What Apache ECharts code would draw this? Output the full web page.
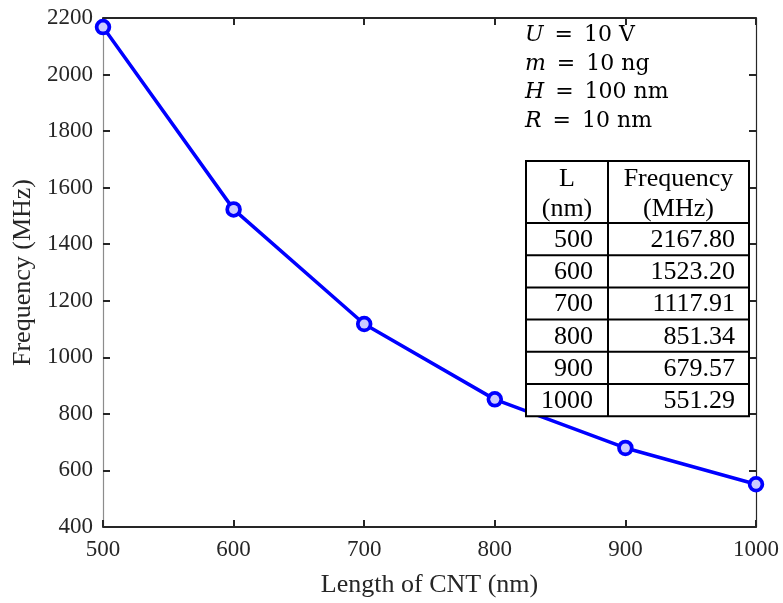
<!DOCTYPE html>
<html>
<head>
<meta charset="utf-8">
<script src="https://cdn.jsdelivr.net/npm/echarts@6/dist/echarts.min.js"></script>
<style>html,body{margin:0;padding:0;background:#fff;}#c{width:783px;height:603px;}</style>
</head>
<body>
<div id="c"></div>
<script>
// Data
var lengths = [500, 600, 700, 800, 900, 1000];           // nm
var frequencies = [2167.80, 1523.20, 1117.91, 851.34, 679.57, 551.29]; // MHz
var xTicks = [500, 600, 700, 800, 900, 1000];
var yTicks = [400, 600, 800, 1000, 1200, 1400, 1600, 1800, 2000, 2200];
var paramVars = ['U', 'm', 'H', 'R'];
var paramVals = ['10 V', '10 ng', '100 nm', '10 nm'];
var tableHeader = [['L', '(nm)'], ['Frequency', '(MHz)']];

var chart = echarts.init(document.getElementById('c'), null, {renderer: 'canvas'});
var axisColor = '#262626';
var serif = '"Liberation Serif", "Times New Roman", serif';

function axisBase(extra, lineColor, lineWidth) {
  return Object.assign({
    type: 'value',
    axisLine: {show: true, onZero: false, lineStyle: {color: lineColor || axisColor, width: lineWidth || 2}},
    axisTick: {show: true, inside: true, length: 7, lineStyle: {color: axisColor, width: 2}},
    splitLine: {show: false}
  }, extra);
}

// Annotation + table graphics
var graphics = [];
var annoY = [37, 66, 94.5, 123];
for (var i = 0; i < paramVars.length; i++) {
  graphics.push({
    type: 'text', left: 525, top: annoY[i] - 13, z: 100,
    style: {
      text: '{i|' + paramVars[i] + '}\u2002=\u2002' + paramVals[i],
      font: '22px "DejaVu Serif"', fill: '#000',
      rich: {i: {fontStyle: 'italic', fontSize: 22, fontFamily: 'DejaVu Serif'}}
    }
  });
}
var tx0 = 526, tx1 = 608, tx2 = 749, ty0 = 161, th = 62, rh = 32.2;
var nRows = lengths.length;
var tBottom = ty0 + th + rh * nRows;
graphics.push({type: 'rect', z: 100, shape: {x: tx0, y: ty0, width: tx2 - tx0, height: tBottom - ty0},
  style: {fill: '#fff', stroke: '#000', lineWidth: 2}});
graphics.push({type: 'line', z: 101, shape: {x1: tx1, y1: ty0, x2: tx1, y2: tBottom}, style: {stroke: '#000', lineWidth: 2}});
for (var r = 0; r < nRows; r++) {
  var yl = ty0 + th + rh * r;
  graphics.push({type: 'line', z: 101, shape: {x1: tx0, y1: yl, x2: tx2, y2: yl}, style: {stroke: '#000', lineWidth: 2}});
  graphics.push({type: 'text', z: 102, x: tx1 - 15, y: yl + rh / 2 + 1,
    style: {text: String(lengths[r]), font: '26px ' + serif, fill: '#000', textAlign: 'right', textVerticalAlign: 'middle'}});
  graphics.push({type: 'text', z: 102, x: tx2 - 14, y: yl + rh / 2 + 1,
    style: {text: frequencies[r].toFixed(2), font: '26px ' + serif, fill: '#000', textAlign: 'right', textVerticalAlign: 'middle'}});
}
var colCenters = [(tx0 + tx1) / 2, (tx1 + tx2) / 2];
for (var c = 0; c < 2; c++) {
  for (var k = 0; k < 2; k++) {
    graphics.push({type: 'text', z: 102, x: colCenters[c], y: ty0 + 18 + k * 30,
      style: {text: tableHeader[c][k], font: '26px ' + serif, fill: '#000', textAlign: 'center', textVerticalAlign: 'middle'}});
  }
}

function plain(v) { return String(v); }

var option = {
  animation: false,
  backgroundColor: '#fff',
  grid: {left: 103, right: 27, top: 18, bottom: 71},
  xAxis: [
    axisBase({
      min: xTicks[0], max: xTicks[xTicks.length - 1], interval: 100, position: 'bottom',
      axisLabel: {fontSize: 23, fontFamily: serif, color: axisColor, margin: 11, formatter: plain},
      name: 'Length of CNT (nm)', nameLocation: 'middle', nameGap: 45,
      nameTextStyle: {fontSize: 26, fontFamily: serif, color: axisColor}
    }),
    axisBase({min: xTicks[0], max: xTicks[xTicks.length - 1], interval: 100, position: 'top', axisLabel: {show: false}})
  ],
  yAxis: [
    axisBase({
      min: yTicks[0], max: yTicks[yTicks.length - 1], interval: 200, position: 'left',
      axisLabel: {fontSize: 23, fontFamily: serif, color: axisColor, margin: 10, formatter: plain},
      name: 'Frequency (MHz)', nameLocation: 'middle', nameGap: 58,
      nameTextStyle: {fontSize: 26, fontFamily: serif, color: axisColor}
    }, '#8c8c8c', 1.2),
    axisBase({min: yTicks[0], max: yTicks[yTicks.length - 1], interval: 200, position: 'right', axisLabel: {show: false}}, '#262626', 1.2)
  ],
  series: [{
    type: 'line',
    xAxisIndex: 0, yAxisIndex: 0,
    data: lengths.map(function (l, i) { return [l, frequencies[i]]; }),
    symbol: 'circle', symbolSize: 13,
    lineStyle: {color: '#0000ff', width: 3.5},
    itemStyle: {color: '#0000ff', borderColor: '#0000ff', borderWidth: 3.5},
    emphasis: {disabled: true},
    z: 5
  }, {
    type: 'scatter',
    data: lengths.map(function (l, i) { return [l, frequencies[i]]; }),
    symbol: 'circle', symbolSize: 9,
    itemStyle: {color: '#fff'},
    silent: true,
    z: 6
  }],
  graphic: graphics
};
chart.setOption(option);
</script>
</body>
</html>
